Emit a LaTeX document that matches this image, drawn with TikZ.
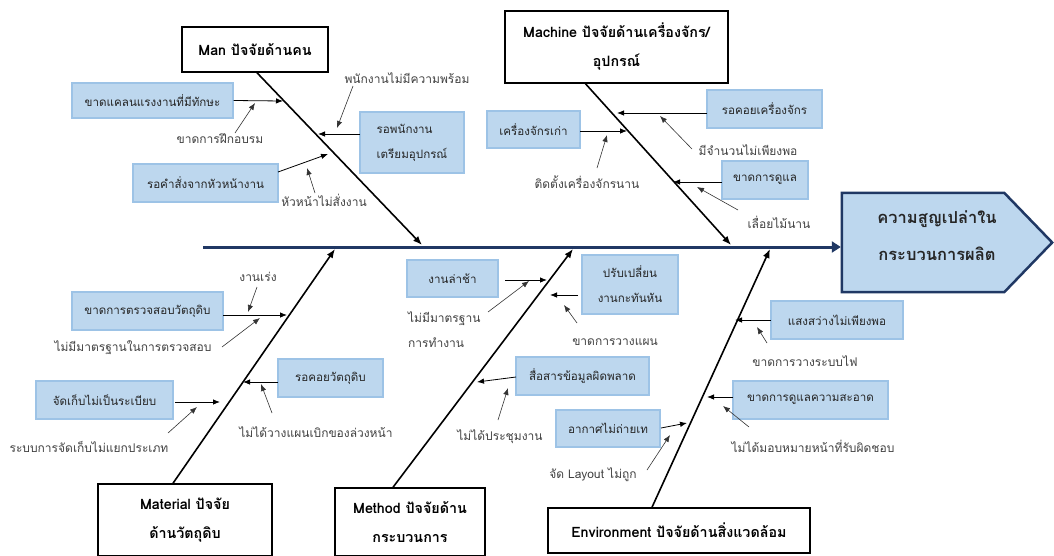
\documentclass[tikz,border=0pt]{standalone}
\usepackage{fontspec}
\setmainfont[Script=Thai]{Loma}
\usetikzlibrary{arrows.meta}
\definecolor{navy}{HTML}{203864}
\definecolor{boxfill}{HTML}{BDD7EE}
\definecolor{boxline}{HTML}{9DC3E6}
\definecolor{txt}{HTML}{262626}
\definecolor{lbl}{HTML}{404040}
\tikzset{
  cbox/.style={draw=boxline, fill=boxfill, line width=1.2pt, inner sep=0pt, text=txt, font=\fontsize{11.6}{25}\selectfont, align=center},
  lbltext/.style={inner sep=1pt, text=lbl, font=\fontsize{12}{25}\selectfont, align=center},
  headbox/.style={draw=black, fill=white, line width=1.5pt, inner sep=0pt, font=\bfseries\fontsize{14.3}{29}\selectfont, align=center},
  bone/.style={draw=black, line width=1.6pt, -{Latex[length=9pt,width=7pt]}},
  subarrow/.style={draw=black, line width=0.8pt, -{Latex[length=7pt,width=5.5pt]}},
  thinarrow/.style={draw=black!80, line width=0.6pt, -{Latex[length=7pt,width=5.5pt]}},
  spine/.style={draw=navy, line width=3pt, -{Triangle[length=9pt,width=11pt]}},
  effectshape/.style={draw=navy, fill=boxfill, line width=2.5pt, line join=miter},
}
\begin{document}
\begin{tikzpicture}[x=1pt,y=-1pt]
\useasboundingbox (0,0) rectangle (1054,555);

% effect
\node[minimum width=210pt, minimum height=99pt, inner sep=0pt] (effect) at (947,242.5) {};
\draw[effectshape] (effect.north west) -- ([xshift=-48pt]effect.north east) -- (effect.east) -- ([xshift=-48pt]effect.south east) -- (effect.south west) -- cycle;
\node[font=\bfseries\fontsize{16.5}{37}\selectfont, text=txt, align=center] (effecttext) at (937,236) {ความสูญเปล่าใน\\กระบวนการผลิต};

% spine
\coordinate (spinestart) at (203,247);
\draw[spine] (spinestart) -- ([xshift=-1pt]effect.west |- spinestart);

% heads
\node[headbox, minimum width=146pt, minimum height=45pt] (man) at (255,49.5) {Man ปัจจัยด้านคน};
\node[headbox, minimum width=223pt, minimum height=72pt] (machine) at (616.5,47) {Machine ปัจจัยด้านเครื่องจักร/\\อุปกรณ์};
\node[headbox, minimum width=174pt, minimum height=72pt] (material) at (185,520) {Material ปัจจัย\\ด้านวัตถุดิบ};
\node[headbox, minimum width=150pt, minimum height=68pt] (method) at (410,522) {Method ปัจจัยด้าน\\กระบวนการ};
\node[headbox, minimum width=262pt, minimum height=45pt] (environment) at (679,530.5) {Environment ปัจจัยด้านสิ่งแวดล้อม};

% bone tips
\coordinate (mantip) at (422,245);
\coordinate (machinetip) at (731,245);
\coordinate (materialtip) at (335,249);
\coordinate (methodtip) at (573,249);
\coordinate (envtip) at (770,249);
\draw[bone] ([xshift=2pt]man.south) -- (mantip);
\draw[bone] ([xshift=-31pt]machine.south) -- (machinetip);
\draw[bone] ([xshift=-12pt]material.north) -- (materialtip);
\draw[bone] ([xshift=-17pt]method.north) -- (methodtip);
\draw[bone] ([xshift=-27pt]environment.north) -- (envtip);

% ---------- Man ----------
\node[cbox, minimum width=161pt, minimum height=35pt] (c1) at (152.5,100.5) {ขาดแคลนแรงงานที่มีทักษะ};
\node[cbox, minimum width=145pt, minimum height=38pt] (c2) at (205.5,183) {รอคำสั่งจากหัวหน้างาน};
\node[cbox, minimum width=104pt, minimum height=61pt, align=left] (c3) at (412,142.5) {รอพนักงาน\\เตรียมอุปกรณ์};
\node[lbltext] (l1) at (220,139) {ขาดการฝึกอบรม};
\node[lbltext] (l2) at (324,200) {หัวหน้าไม่สั่งงาน};
\node[lbltext] (l3) at (407,78) {พนักงานไม่มีความพร้อม};
\coordinate (t1) at (283,101);
\coordinate (t2) at (328,154);
\coordinate (t3) at (318,134);
\coordinate (s1a) at (235,133); \coordinate (s1b) at (255,103);
\coordinate (s2a) at (315,193); \coordinate (s2b) at (307,168);
\coordinate (s3a) at (353,86);  \coordinate (s3b) at (337,128);
\coordinate (c2o) at (278,172);
\coordinate (c3o) at (360,134);
\draw[subarrow] (c1.east) -- (t1);
\draw[subarrow] (c2o) -- (t2);
\draw[subarrow] (c3o) -- (t3);
\draw[thinarrow] (s1a) -- (s1b);
\draw[thinarrow] (s2a) -- (s2b);
\draw[thinarrow] (s3a) -- (s3b);

% ---------- Machine ----------
\node[cbox, minimum width=93pt, minimum height=37pt] (c4) at (533.5,129.5) {เครื่องจักรเก่า};
\node[cbox, minimum width=115pt, minimum height=38pt] (c5) at (764.5,109) {รอคอยเครื่องจักร};
\node[cbox, minimum width=86pt, minimum height=38pt] (c6) at (765,180) {ขาดการดูแล};
\node[lbltext] (l4) at (587,182) {ติดตั้งเครื่องจักรนาน};
\node[lbltext] (l5) at (748,150) {มีจำนวนไม่เพียงพอ};
\node[lbltext] (l6) at (779,222) {เลื่อยไม้นาน};
\coordinate (c4o) at (580,131); \coordinate (t4) at (627,131);
\coordinate (c5o) at (707,113); \coordinate (t5) at (617,113);
\coordinate (c6o) at (722,182); \coordinate (t6) at (673,182);
\coordinate (s4a) at (597,168); \coordinate (s4b) at (607,135);
\coordinate (s5a) at (692,149); \coordinate (s5b) at (660,116);
\coordinate (s6a) at (738,210); \coordinate (s6b) at (697,187);
\draw[subarrow] (c4o) -- (t4);
\draw[subarrow] (c5o) -- (t5);
\draw[subarrow] (c6o) -- (t6);
\draw[thinarrow] (s4a) -- (s4b);
\draw[thinarrow] (s5a) -- (s5b);
\draw[thinarrow] (s6a) -- (s6b);

% ---------- Material ----------
\node[cbox, minimum width=151pt, minimum height=38pt] (c7) at (147.5,311) {ขาดการตรวจสอบวัตถุดิบ};
\node[cbox, minimum width=105pt, minimum height=38pt] (c8) at (330.5,378) {รอคอยวัตถุดิบ};
\node[cbox, minimum width=137pt, minimum height=38pt] (c9) at (104.5,400) {จัดเก็บไม่เป็นระเบียบ};
\node[lbltext] (l7a) at (258,277) {งานเร่ง};
\node[lbltext] (l7b) at (133,348) {ไม่มีมาตรฐานในการตรวจสอบ};
\node[lbltext] (l8) at (316,432) {ไม่ได้วางแผนเบิกของล่วงหน้า};
\node[lbltext] (l9) at (89,447) {ระบบการจัดเก็บไม่แยกประเภท};
\coordinate (c7o) at (223,315); \coordinate (t7) at (287,315);
\coordinate (c8o) at (278,382); \coordinate (t8) at (243,382);
\coordinate (c9o) at (175,402); \coordinate (t9) at (220,402);
\coordinate (s7aa) at (257,287); \coordinate (s7ab) at (248,312);
\coordinate (s7ba) at (222,347); \coordinate (s7bb) at (260,318);
\coordinate (s8a) at (272,413); \coordinate (s8b) at (261,384);
\coordinate (s9a) at (168,433); \coordinate (s9b) at (197,407);
\draw[subarrow] (c7o) -- (t7);
\draw[subarrow] (c8o) -- (t8);
\draw[subarrow] (c9o) -- (t9);
\draw[thinarrow] (s7aa) -- (s7ab);
\draw[thinarrow] (s7ba) -- (s7bb);
\draw[thinarrow] (s8a) -- (s8b);
\draw[thinarrow] (s9a) -- (s9b);

% ---------- Method ----------
\node[cbox, minimum width=91pt, minimum height=37pt] (c10) at (452.5,278.5) {งานล่าช้า};
\node[cbox, minimum width=96pt, minimum height=59pt] (c11) at (630,284.5) {ปรับเปลี่ยน\\งานกะทันหัน};
\node[cbox, minimum width=133pt, minimum height=38pt] (c12) at (582.5,376) {สื่อสารข้อมูลผิดพลาด};
\node[cbox, minimum width=104pt, minimum height=37pt] (c13) at (608,428.5) {อากาศไม่ถ่ายเท};
\node[lbltext, align=left, anchor=west] (l10) at (407,330) {ไม่มีมาตรฐาน\\การทำงาน};
\node[lbltext] (l11) at (615,342) {ขาดการวางแผน};
\node[lbltext] (l12) at (500,437) {ไม่ได้ประชุมงาน};
\node[lbltext] (l13) at (593,475) {จัด Layout ไม่ถูก};
\coordinate (c10o) at (505,280); \coordinate (t10) at (547,280);
\coordinate (c11o) at (578,295); \coordinate (t11) at (550,295);
\coordinate (c12o) at (516,377); \coordinate (t12) at (477,382);
\coordinate (c13o) at (661,428); \coordinate (t13) at (687,423);
\coordinate (s10a) at (488,312); \coordinate (s10b) at (529,281);
\coordinate (s11a) at (577,323); \coordinate (s11b) at (564,305);
\coordinate (s12a) at (498,420); \coordinate (s12b) at (508,388);
\coordinate (s13a) at (647,470); \coordinate (s13b) at (670,435);
\draw[subarrow] (c10o) -- (t10);
\draw[subarrow] (c11o) -- (t11);
\draw[subarrow] (c12o) -- (t12);
\draw[subarrow] (c13o) -- (t13);
\draw[thinarrow] (s10a) -- (s10b);
\draw[thinarrow] (s11a) -- (s11b);
\draw[thinarrow] (s12a) -- (s12b);
\draw[thinarrow] (s13a) -- (s13b);

% ---------- Environment ----------
\node[cbox, minimum width=132pt, minimum height=38pt] (c14) at (837,320) {แสงสว่างไม่เพียงพอ};
\node[cbox, minimum width=155pt, minimum height=38pt] (c15) at (810.5,400) {ขาดการดูแลความสะอาด};
\node[lbltext] (l14) at (805,361) {ขาดการวางระบบไฟ};
\node[lbltext] (l15) at (813,446) {ไม่ได้มอบหมายหน้าที่รับผิดชอบ};
\coordinate (c14o) at (771,320); \coordinate (t14) at (735,320);
\coordinate (c15o) at (733,397); \coordinate (t15) at (707,397);
\coordinate (s14a) at (767,343); \coordinate (s14b) at (757,327);
\coordinate (s15a) at (749,427); \coordinate (s15b) at (723,406);
\draw[subarrow] (c14o) -- (t14);
\draw[subarrow] (c15o) -- (t15);
\draw[thinarrow] (s14a) -- (s14b);
\draw[thinarrow] (s15a) -- (s15b);
\end{tikzpicture}
\end{document}
